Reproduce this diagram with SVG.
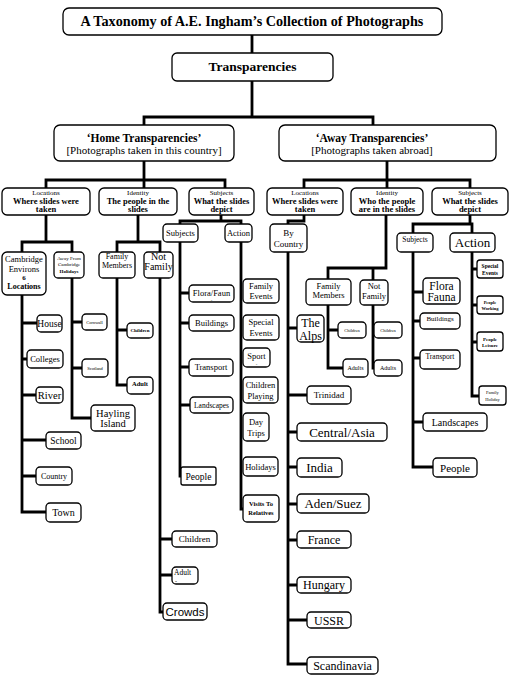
<svg xmlns="http://www.w3.org/2000/svg" width="509" height="675" viewBox="0 0 509 675">
<style>
.n rect{fill:#fff;stroke:#000;stroke-width:1.3}
text{font-family:"Liberation Serif","DejaVu Serif",serif;text-anchor:middle;fill:#000}
.b{font-weight:bold}
.s{font-family:"Liberation Sans","Open Sans",sans-serif}
#connectors path{fill:none;stroke:#000;stroke-width:2.8;stroke-linejoin:miter}
</style>
<rect width="509" height="675" fill="#fff"/>
<g id="connectors">
<path d="M252,35V53M252,81V117M144,125V117H373V125"/>
<path d="M144,161V188M46,188V180H225V188M387,161V188M304,188V180H470V188"/>
<path d="M46,215V242M22,252V242H72V252"/>
<path d="M22,295V512H46M22,323H37M22,359H27M22,395H36M22,440H46M22,476H36"/>
<path d="M72,278V418H91M72,322H82M72,368H82"/>
<path d="M138,215V242M117,252V242H160V252"/>
<path d="M117,278V385H127M117,330H127"/>
<path d="M160,278V612H163M160,539H172M160,575H172"/>
<path d="M221,215V221M180,224V221H241V224"/>
<path d="M180,242V476H182M180,293H189M180,323H189M180,367H189M180,405H190"/>
<path d="M241,242V509H243"/>
<path d="M304,215V221H288V224"/>
<path d="M288,252V664H307M288,328H297M288,395H307M288,432H297M288,467H297M288,504H297M288,540H297M288,585H297M288,620H307"/>
<path d="M386,215V268H328V279M373,268V280"/>
<path d="M328,305V368H343M328,330H338"/>
<path d="M373,305V368H375"/>
<path d="M470,215V224M413,233V224H472V233"/>
<path d="M413,252V467H433M413,292H423M413,321H420M413,358H420M413,422H423"/>
<path d="M472,252V396H479M472,269H477M472,305H477M472,342H477"/>
</g>

<g id="title" class="n"><rect x="63" y="8" width="379" height="27" rx="6"/><text class="b" x="252" y="26" font-size="14.2">A Taxonomy of A.E. Ingham’s Collection of Photographs</text></g>
<g id="transparencies" class="n"><rect x="172" y="53" width="161" height="28" rx="5"/><text class="b" x="252.5" y="71" font-size="13.5">Transparencies</text></g>
<g id="home" class="n"><rect x="54" y="125" width="180" height="36" rx="6"/><text class="b" x="144" y="142" font-size="11.5">‘Home Transparencies’</text><text x="144" y="154" font-size="11">[Photographs taken in this country]</text></g>
<g id="away" class="n"><rect x="279" y="125" width="217" height="36" rx="6"/><text class="b" x="372" y="142" font-size="11.5">‘Away Transparencies’</text><text x="372" y="154" font-size="11">[Photographs taken abroad]</text></g>

<g id="home-locations" class="n"><rect x="2" y="188" width="88" height="27" rx="5"/><text x="46" y="195" font-size="7">Locations</text><text class="b" x="46" y="203.5" font-size="8.5">Where slides were</text><text class="b" x="46" y="212" font-size="8.5">taken</text></g>
<g id="home-identity" class="n"><rect x="99" y="188" width="78" height="27" rx="5"/><text x="138" y="195" font-size="7">Identity</text><text class="b" x="138" y="203.5" font-size="8.5">The people in the</text><text class="b" x="138" y="212" font-size="8.5">slides</text></g>
<g id="home-subjects" class="n"><rect x="189" y="188" width="65" height="27" rx="5"/><text x="221.5" y="195" font-size="7">Subjects</text><text class="b" x="221.5" y="203.5" font-size="8.5">What the slides</text><text class="b" x="221.5" y="212" font-size="8.5">depict</text></g>
<g id="away-locations" class="n"><rect x="267" y="188" width="76" height="27" rx="5"/><text x="305" y="195" font-size="7">Locations</text><text class="b" x="305" y="203.5" font-size="8.5">Where slides were</text><text class="b" x="305" y="212" font-size="8.5">taken</text></g>
<g id="away-identity" class="n"><rect x="351" y="188" width="72" height="27" rx="5"/><text x="387" y="195" font-size="7">Identity</text><text class="b" x="387" y="203.5" font-size="8.5">Who the people</text><text class="b" x="387" y="212" font-size="8.5">are in the slides</text></g>
<g id="away-subjects" class="n"><rect x="432" y="188" width="76" height="27" rx="5"/><text x="470" y="195" font-size="7">Subjects</text><text class="b" x="470" y="203.5" font-size="8.5">What the slides</text><text class="b" x="470" y="212" font-size="8.5">depict</text></g>

<g id="cambridge" class="n"><rect x="2" y="252" width="44" height="43" rx="5"/><text x="24" y="262" font-size="8.5">Cambridge</text><text x="24" y="271.5" font-size="8.5">Environs</text><text class="b" x="24" y="279.8" font-size="7">6</text><text class="b" x="24" y="289" font-size="8">Locations</text></g>
<g id="away-from-cambridge" class="n"><rect x="54" y="252" width="30" height="26" rx="4"/><text x="69" y="259.5" font-size="5">Away From</text><text x="69" y="266" font-size="5">Cambridge</text><text class="b" x="69" y="272.5" font-size="5">Holidays</text></g>
<g id="house" class="n"><rect x="37" y="315" width="25" height="17" rx="4"/><text x="49.5" y="327" font-size="9.5">House</text></g>
<g id="colleges" class="n"><rect x="27" y="350" width="36" height="18" rx="4"/><text x="45" y="362" font-size="8.5">Colleges</text></g>
<g id="river" class="n"><rect x="36" y="387" width="27" height="16" rx="4"/><text x="49.5" y="398.5" font-size="10.5">River</text></g>
<g id="school" class="n"><rect x="46" y="432" width="35" height="17" rx="4"/><text x="63.5" y="444" font-size="9.5">School</text></g>
<g id="country" class="n"><rect x="36" y="467" width="36" height="18" rx="4"/><text x="54" y="479" font-size="8">Country</text></g>
<g id="town" class="n"><rect x="46" y="503" width="35" height="19" rx="4"/><text x="63.5" y="516" font-size="10">Town</text></g>
<g id="cornwall" class="n"><rect x="82" y="314" width="25" height="16" rx="4"/><text x="94.5" y="323.5" font-size="4.5">Cornwall</text></g>
<g id="scotland" class="n"><rect x="82" y="359" width="26" height="18" rx="4"/><text x="95" y="369.5" font-size="4.5">Scotland</text></g>
<g id="hayling" class="n"><rect x="91" y="405" width="44" height="26" rx="4"/><text x="113" y="416.5" font-size="10.5">Hayling</text><text x="113" y="426.5" font-size="10.5">Island</text></g>

<g id="home-family-members" class="n"><rect x="99" y="252" width="36" height="26" rx="4"/><text x="117" y="259" font-size="8">Family</text><text x="117" y="268" font-size="8">Members</text></g>
<g id="home-not-family" class="n"><rect x="144" y="252" width="29" height="26" rx="4"/><text x="158.5" y="260" font-size="10">Not</text><text x="158.5" y="270" font-size="10">Family</text></g>
<g id="home-fm-children" class="n"><rect x="127" y="323" width="26" height="15" rx="4"/><text class="b" x="140" y="332" font-size="5">Children</text></g>
<g id="home-fm-adult" class="n"><rect x="127" y="377" width="26" height="17" rx="4"/><text class="b" x="140" y="386" font-size="6.5">Adult</text></g>
<g id="home-nf-children" class="n"><rect x="172" y="531" width="45" height="16" rx="4"/><text x="194.5" y="541.5" font-size="9">Children</text></g>
<g id="home-nf-adult" class="n"><rect x="172" y="567" width="26" height="17" rx="4"/><text x="174" y="575" font-size="7.5" style="text-anchor:start">Adult</text><text x="175" y="583" font-size="6" style="text-anchor:start">-</text></g>
<g id="crowds" class="n"><rect x="163" y="603" width="44" height="17" rx="4"/><text class="s" x="185" y="615.5" font-size="11.5">Crowds</text></g>

<g id="home-subjects-sub" class="n"><rect x="163" y="224" width="35" height="18" rx="4"/><text x="180.5" y="236" font-size="8.5">Subjects</text></g>
<g id="home-action" class="n"><rect x="225" y="224" width="27" height="18" rx="4"/><text x="238.5" y="236" font-size="8.5">Action</text></g>
<g id="home-flora" class="n"><rect x="189" y="285" width="45" height="17" rx="4"/><text x="211.5" y="295.5" font-size="8.5">Flora/Faun</text><text x="211.5" y="302" font-size="5">-</text></g>
<g id="home-buildings" class="n"><rect x="189" y="315" width="45" height="16" rx="4"/><text x="211.5" y="326" font-size="8.5">Buildings</text></g>
<g id="home-transport" class="n"><rect x="189" y="359" width="44" height="17" rx="4"/><text x="211" y="370" font-size="8.5">Transport</text></g>
<g id="home-landscapes" class="n"><rect x="190" y="397" width="43" height="16" rx="4"/><text x="211.5" y="407.5" font-size="7.5">Landscapes</text></g>
<g id="home-people" class="n"><rect x="181" y="467" width="35" height="18" rx="2"/><text x="198.5" y="479.5" font-size="9.5">People</text></g>

<g id="family-events" class="n"><rect x="243" y="279" width="36" height="24" rx="4"/><text x="261" y="288.5" font-size="8.5">Family</text><text x="261" y="298.5" font-size="8.5">Events</text></g>
<g id="special-events" class="n"><rect x="243" y="315" width="36" height="25" rx="4"/><text x="261" y="325" font-size="8.5">Special</text><text x="261" y="335.5" font-size="8.5">Events</text></g>
<g id="sport" class="n"><rect x="243" y="348" width="27" height="19" rx="4"/><text x="256.5" y="359" font-size="8.5">Sport</text><text x="256.5" y="366" font-size="5">-</text></g>
<g id="children-playing" class="n"><rect x="243" y="377" width="35" height="26" rx="4"/><text x="260.5" y="388" font-size="8.5">Children</text><text x="260.5" y="399" font-size="8.5">Playing</text></g>
<g id="day-trips" class="n"><rect x="243" y="413" width="26" height="28" rx="4"/><text x="256" y="425" font-size="8.5">Day</text><text x="256" y="435.5" font-size="8.5">Trips</text></g>
<g id="holidays" class="n"><rect x="243" y="457" width="35" height="19" rx="4"/><text x="260.5" y="469.5" font-size="8.5">Holidays</text></g>
<g id="visits" class="n"><rect x="243" y="495" width="36" height="27" rx="4"/><text class="b" x="261" y="506" font-size="6.5">Visits To</text><text class="b" x="261" y="515" font-size="6.5">Relatives</text></g>

<g id="by-country" class="n"><rect x="270" y="224" width="37" height="28" rx="4"/><text x="288.5" y="236" font-size="9">By</text><text x="288.5" y="246.5" font-size="9">Country</text></g>
<g id="the-alps" class="n"><rect x="297" y="315" width="27" height="27" rx="4"/><text x="310.5" y="326.5" font-size="12">The</text><text x="310.5" y="339.5" font-size="12">Alps</text></g>
<g id="trinidad" class="n"><rect x="307" y="386" width="44" height="18" rx="4"/><text x="329" y="398" font-size="9">Trinidad</text></g>
<g id="central-asia" class="n"><rect x="297" y="423" width="90" height="18" rx="4"/><text x="342" y="436.5" font-size="13">Central/Asia</text></g>
<g id="india" class="n"><rect x="297" y="458" width="45" height="19" rx="4"/><text x="319.5" y="472" font-size="13">India</text></g>
<g id="aden-suez" class="n"><rect x="297" y="494" width="72" height="19" rx="4"/><text x="333" y="508" font-size="13">Aden/Suez</text></g>
<g id="france" class="n"><rect x="297" y="531" width="54" height="17" rx="4"/><text x="324" y="544" font-size="12">France</text></g>
<g id="hungary" class="n"><rect x="297" y="577" width="54" height="16" rx="4"/><text x="324" y="589" font-size="12">Hungary</text></g>
<g id="ussr" class="n"><rect x="307" y="612" width="44" height="16" rx="4"/><text x="329" y="624.5" font-size="12">USSR</text></g>
<g id="scandinavia" class="n"><rect x="307" y="657" width="71" height="17" rx="4"/><text x="342.5" y="670" font-size="12">Scandinavia</text></g>

<g id="away-family-members" class="n"><rect x="306" y="279" width="45" height="26" rx="4"/><text x="328.5" y="288.5" font-size="8.5">Family</text><text x="328.5" y="298" font-size="8.5">Members</text></g>
<g id="away-not-family" class="n"><rect x="360" y="280" width="28" height="25" rx="4"/><text x="374" y="289" font-size="8.5">Not</text><text x="374" y="299" font-size="8.5">Family</text></g>
<g id="away-fm-children" class="n"><rect x="338" y="322" width="28" height="16" rx="4"/><text x="352" y="331.5" font-size="4.5">Children</text></g>
<g id="away-fm-adults" class="n"><rect x="343" y="359" width="25" height="18" rx="4"/><text x="355.5" y="369.5" font-size="6">Adults</text></g>
<g id="away-nf-children" class="n"><rect x="374" y="322" width="28" height="16" rx="4"/><text x="388" y="331.5" font-size="4.5">Children</text></g>
<g id="away-nf-adults" class="n"><rect x="374" y="360" width="28" height="16" rx="4"/><text x="388" y="369.5" font-size="6">Adults</text></g>

<g id="away-subjects-sub" class="n"><rect x="397" y="233" width="36" height="19" rx="4"/><text x="415" y="242" font-size="7.5">Subjects</text></g>
<g id="away-action" class="n"><rect x="450" y="233" width="45" height="19" rx="4"/><text x="472.5" y="247" font-size="13">Action</text></g>
<g id="away-flora" class="n"><rect x="423" y="278" width="37" height="26" rx="4"/><text x="441.5" y="290" font-size="11.5">Flora</text><text x="441.5" y="301" font-size="11.5">Fauna</text></g>
<g id="away-buildings" class="n"><rect x="420" y="313" width="40" height="16" rx="4"/><text x="440" y="321" font-size="7">Buildings</text></g>
<g id="away-transport" class="n"><rect x="420" y="350" width="40" height="19" rx="4"/><text x="440" y="358.5" font-size="7.5">Transport</text></g>
<g id="away-landscapes" class="n"><rect x="423" y="413" width="64" height="18" rx="4"/><text x="455" y="425.5" font-size="10">Landscapes</text></g>
<g id="away-people" class="n"><rect x="433" y="458" width="44" height="19" rx="4"/><text x="455" y="471.5" font-size="11">People</text></g>
<g id="away-special-events" class="n"><rect x="477" y="260" width="26" height="18" rx="3"/><text class="b" x="490" y="268" font-size="5.5">Special</text><text class="b" x="490" y="274.5" font-size="5.5">Events</text></g>
<g id="people-working" class="n"><rect x="477" y="296" width="26" height="18" rx="3"/><text class="b" x="490" y="303.5" font-size="4.5">People</text><text class="b" x="490" y="309.5" font-size="4.5">Working</text></g>
<g id="people-leisure" class="n"><rect x="477" y="332" width="26" height="19" rx="3"/><text class="b" x="490" y="340.5" font-size="5">People</text><text class="b" x="490" y="346.5" font-size="5">Leisure</text></g>
<g id="family-holiday" class="n"><rect x="479" y="386" width="27" height="19" rx="3"/><text x="492.5" y="394" font-size="4.5">Family</text><text x="492.5" y="401" font-size="4.5">Holiday</text></g>
</svg>
